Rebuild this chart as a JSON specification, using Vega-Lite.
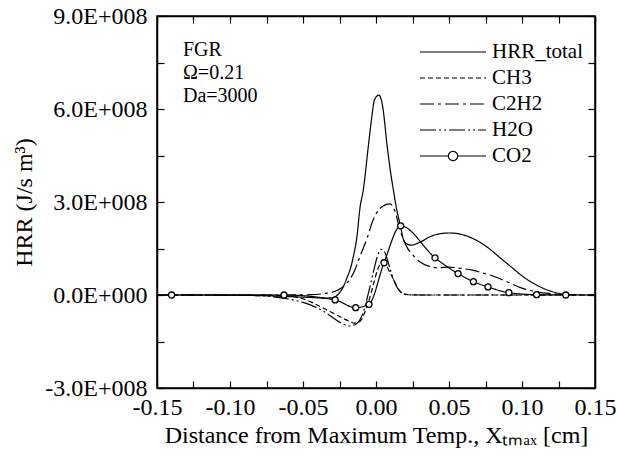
{
  "$schema": "https://vega.github.io/schema/vega-lite/v6.json",
  "width": 438,
  "height": 372,
  "autosize": {"type": "none"},
  "padding": {"left": 157, "top": 16, "right": 23, "bottom": 74},
  "background": "white",
  "config": {
    "font": "'Liberation Serif', serif",
    "view": {"stroke": "black", "strokeWidth": 1.5},
    "text": {"font": "'Liberation Serif', serif"},
    "legend": {"labelFont": "'Liberation Serif', serif", "titleFont": "'Liberation Serif', serif"},
    "axis": {
      "grid": false,
      "domainColor": "black",
      "domainWidth": 1.5,
      "tickColor": "black",
      "tickWidth": 1.2,
      "labelColor": "black",
      "titleColor": "black",
      "labelFont": "'Liberation Serif', serif",
      "titleFont": "'Liberation Serif', serif",
      "labelFontSize": 24,
      "titleFontSize": 24,
      "titleFontWeight": "normal",
      "labelFlush": false,
      "labelOverlap": false
    }
  },
  "datasets": {
    "curves": [
      {"s": "HRR_total", "x": -0.15, "y": 0},
      {"s": "HRR_total", "x": -0.12, "y": 0},
      {"s": "HRR_total", "x": -0.10, "y": -0.005e8},
      {"s": "HRR_total", "x": -0.08, "y": -0.02e8},
      {"s": "HRR_total", "x": -0.06, "y": -0.05e8},
      {"s": "HRR_total", "x": -0.045, "y": -0.08e8},
      {"s": "HRR_total", "x": -0.035, "y": -0.1e8},
      {"s": "HRR_total", "x": -0.029, "y": -0.08e8},
      {"s": "HRR_total", "x": -0.026, "y": 0.02e8},
      {"s": "HRR_total", "x": -0.0224, "y": 0.27e8},
      {"s": "HRR_total", "x": -0.0195, "y": 0.6e8},
      {"s": "HRR_total", "x": -0.0178, "y": 0.81e8},
      {"s": "HRR_total", "x": -0.0155, "y": 1.24e8},
      {"s": "HRR_total", "x": -0.013, "y": 1.9e8},
      {"s": "HRR_total", "x": -0.011, "y": 2.8e8},
      {"s": "HRR_total", "x": -0.0087, "y": 3.39e8},
      {"s": "HRR_total", "x": -0.0053, "y": 4.78e8},
      {"s": "HRR_total", "x": -0.003, "y": 5.7e8},
      {"s": "HRR_total", "x": -0.001, "y": 6.3e8},
      {"s": "HRR_total", "x": 0.002, "y": 6.45e8},
      {"s": "HRR_total", "x": 0.0045, "y": 6.1e8},
      {"s": "HRR_total", "x": 0.0077, "y": 4.78e8},
      {"s": "HRR_total", "x": 0.0105, "y": 3.8e8},
      {"s": "HRR_total", "x": 0.0119, "y": 3.39e8},
      {"s": "HRR_total", "x": 0.014, "y": 2.8e8},
      {"s": "HRR_total", "x": 0.0169, "y": 2.2e8},
      {"s": "HRR_total", "x": 0.0187, "y": 1.8e8},
      {"s": "HRR_total", "x": 0.021, "y": 1.65e8},
      {"s": "HRR_total", "x": 0.0244, "y": 1.61e8},
      {"s": "HRR_total", "x": 0.03, "y": 1.7e8},
      {"s": "HRR_total", "x": 0.039, "y": 1.92e8},
      {"s": "HRR_total", "x": 0.05, "y": 2.0e8},
      {"s": "HRR_total", "x": 0.056, "y": 1.98e8},
      {"s": "HRR_total", "x": 0.065, "y": 1.85e8},
      {"s": "HRR_total", "x": 0.076, "y": 1.55e8},
      {"s": "HRR_total", "x": 0.085, "y": 1.2e8},
      {"s": "HRR_total", "x": 0.094, "y": 0.85e8},
      {"s": "HRR_total", "x": 0.10, "y": 0.62e8},
      {"s": "HRR_total", "x": 0.11, "y": 0.32e8},
      {"s": "HRR_total", "x": 0.12, "y": 0.12e8},
      {"s": "HRR_total", "x": 0.13, "y": 0.02e8},
      {"s": "HRR_total", "x": 0.14, "y": 0},
      {"s": "HRR_total", "x": 0.15, "y": 0},

      {"s": "CH3", "x": -0.15, "y": 0},
      {"s": "CH3", "x": -0.08, "y": 0},
      {"s": "CH3", "x": -0.07, "y": -0.01e8},
      {"s": "CH3", "x": -0.06, "y": -0.04e8},
      {"s": "CH3", "x": -0.05, "y": -0.12e8},
      {"s": "CH3", "x": -0.043, "y": -0.26e8},
      {"s": "CH3", "x": -0.035, "y": -0.45e8},
      {"s": "CH3", "x": -0.028, "y": -0.62e8},
      {"s": "CH3", "x": -0.02, "y": -0.81e8},
      {"s": "CH3", "x": -0.0144, "y": -0.91e8},
      {"s": "CH3", "x": -0.011, "y": -0.85e8},
      {"s": "CH3", "x": -0.008, "y": -0.6e8},
      {"s": "CH3", "x": -0.005, "y": -0.2e8},
      {"s": "CH3", "x": -0.002, "y": 0.3e8},
      {"s": "CH3", "x": 0.001, "y": 0.8e8},
      {"s": "CH3", "x": 0.004, "y": 1.05e8},
      {"s": "CH3", "x": 0.007, "y": 0.95e8},
      {"s": "CH3", "x": 0.0096, "y": 0.72e8},
      {"s": "CH3", "x": 0.012, "y": 0.5e8},
      {"s": "CH3", "x": 0.015, "y": 0.22e8},
      {"s": "CH3", "x": 0.018, "y": 0.06e8},
      {"s": "CH3", "x": 0.022, "y": 0.01e8},
      {"s": "CH3", "x": 0.03, "y": 0},
      {"s": "CH3", "x": 0.15, "y": 0},

      {"s": "C2H2", "x": -0.15, "y": 0},
      {"s": "C2H2", "x": -0.06, "y": 0},
      {"s": "C2H2", "x": -0.045, "y": 0.01e8},
      {"s": "C2H2", "x": -0.035, "y": 0.05e8},
      {"s": "C2H2", "x": -0.028, "y": 0.12e8},
      {"s": "C2H2", "x": -0.024, "y": 0.22e8},
      {"s": "C2H2", "x": -0.02, "y": 0.38e8},
      {"s": "C2H2", "x": -0.015, "y": 0.75e8},
      {"s": "C2H2", "x": -0.011, "y": 1.24e8},
      {"s": "C2H2", "x": -0.006, "y": 1.85e8},
      {"s": "C2H2", "x": -0.002, "y": 2.42e8},
      {"s": "C2H2", "x": 0.003, "y": 2.8e8},
      {"s": "C2H2", "x": 0.0096, "y": 2.94e8},
      {"s": "C2H2", "x": 0.013, "y": 2.7e8},
      {"s": "C2H2", "x": 0.0164, "y": 2.1e8},
      {"s": "C2H2", "x": 0.021, "y": 1.56e8},
      {"s": "C2H2", "x": 0.026, "y": 1.25e8},
      {"s": "C2H2", "x": 0.03, "y": 1.07e8},
      {"s": "C2H2", "x": 0.036, "y": 0.93e8},
      {"s": "C2H2", "x": 0.042, "y": 0.88e8},
      {"s": "C2H2", "x": 0.05, "y": 0.9e8},
      {"s": "C2H2", "x": 0.058, "y": 0.86e8},
      {"s": "C2H2", "x": 0.066, "y": 0.8e8},
      {"s": "C2H2", "x": 0.074, "y": 0.7e8},
      {"s": "C2H2", "x": 0.082, "y": 0.58e8},
      {"s": "C2H2", "x": 0.09, "y": 0.42e8},
      {"s": "C2H2", "x": 0.10, "y": 0.22e8},
      {"s": "C2H2", "x": 0.11, "y": 0.1e8},
      {"s": "C2H2", "x": 0.12, "y": 0.04e8},
      {"s": "C2H2", "x": 0.13, "y": 0.01e8},
      {"s": "C2H2", "x": 0.14, "y": 0},
      {"s": "C2H2", "x": 0.15, "y": 0},

      {"s": "H2O", "x": -0.15, "y": 0},
      {"s": "H2O", "x": -0.09, "y": 0},
      {"s": "H2O", "x": -0.08, "y": -0.02e8},
      {"s": "H2O", "x": -0.07, "y": -0.06e8},
      {"s": "H2O", "x": -0.06, "y": -0.13e8},
      {"s": "H2O", "x": -0.05, "y": -0.24e8},
      {"s": "H2O", "x": -0.043, "y": -0.36e8},
      {"s": "H2O", "x": -0.035, "y": -0.55e8},
      {"s": "H2O", "x": -0.028, "y": -0.78e8},
      {"s": "H2O", "x": -0.0224, "y": -0.94e8},
      {"s": "H2O", "x": -0.018, "y": -1.0e8},
      {"s": "H2O", "x": -0.014, "y": -0.95e8},
      {"s": "H2O", "x": -0.011, "y": -0.8e8},
      {"s": "H2O", "x": -0.008, "y": -0.45e8},
      {"s": "H2O", "x": -0.005, "y": 0.1e8},
      {"s": "H2O", "x": -0.002, "y": 0.7e8},
      {"s": "H2O", "x": 0.001, "y": 1.25e8},
      {"s": "H2O", "x": 0.0035, "y": 1.47e8},
      {"s": "H2O", "x": 0.006, "y": 1.38e8},
      {"s": "H2O", "x": 0.0096, "y": 0.85e8},
      {"s": "H2O", "x": 0.012, "y": 0.5e8},
      {"s": "H2O", "x": 0.015, "y": 0.2e8},
      {"s": "H2O", "x": 0.018, "y": 0.06e8},
      {"s": "H2O", "x": 0.021, "y": 0.01e8},
      {"s": "H2O", "x": 0.03, "y": 0},
      {"s": "H2O", "x": 0.15, "y": 0},

      {"s": "CO2", "x": -0.14, "y": 0},
      {"s": "CO2", "x": -0.063, "y": 0},
      {"s": "CO2", "x": -0.028, "y": -0.16e8},
      {"s": "CO2", "x": -0.0139, "y": -0.41e8},
      {"s": "CO2", "x": -0.0048, "y": -0.3e8},
      {"s": "CO2", "x": 0.0055, "y": 1.04e8},
      {"s": "CO2", "x": 0.0169, "y": 2.23e8},
      {"s": "CO2", "x": 0.0404, "y": 1.2e8},
      {"s": "CO2", "x": 0.0562, "y": 0.69e8},
      {"s": "CO2", "x": 0.0667, "y": 0.43e8},
      {"s": "CO2", "x": 0.0767, "y": 0.26e8},
      {"s": "CO2", "x": 0.091, "y": 0.075e8},
      {"s": "CO2", "x": 0.11, "y": 0.01e8},
      {"s": "CO2", "x": 0.13, "y": 0}
    ],
    "notes": [
      {"label": "FGR", "x": -0.1322, "y": 7.9e8},
      {"label": "Ω=0.21", "x": -0.1322, "y": 7.16e8},
      {"label": "Da=3000", "x": -0.1322, "y": 6.42e8}
    ]
  },
  "layer": [
    {
      "data": {"name": "curves"},
      "mark": {"type": "line", "interpolate": "monotone", "strokeWidth": 1.2, "color": "black"},
      "encoding": {
        "x": {
          "field": "x", "type": "quantitative",
          "scale": {"domain": [-0.15, 0.15], "nice": false, "zero": false},
          "axis": {
            "orient": "bottom",
            "values": [-0.15, -0.125, -0.1, -0.075, -0.05, -0.025, 0, 0.025, 0.05, 0.075, 0.1, 0.125, 0.15],
            "labelExpr": "abs(datum.value*20 - round(datum.value*20)) < 1e-6 ? (datum.value < -1e-9 ? '-' : '') + format(abs(datum.value), '.2f') : ''",
            "tickSize": -7,
            "labelPadding": 14,
            "title": "Distance from Maximum Temp., Xₜₘₐₓ [cm]",
            "titlePadding": 4
          }
        },
        "y": {
          "field": "y", "type": "quantitative",
          "scale": {"domain": [-3e8, 9e8], "nice": false, "zero": false},
          "axis": {
            "orient": "left",
            "values": [-3e8, -1.5e8, 0, 1.5e8, 3e8, 4.5e8, 6e8, 7.5e8, 9e8],
            "labelExpr": "abs(datum.value/3e8 - round(datum.value/3e8)) < 1e-6 ? (abs(datum.value) < 1 ? '0.0E+000' : (datum.value < 0 ? '-' : '') + format(abs(datum.value)/1e8, '.1f') + 'E+008') : ''",
            "tickSize": -7,
            "labelPadding": 17,
            "title": "HRR (J/s m³)",
            "titlePadding": 8
          }
        },
        "strokeDash": {
          "field": "s", "type": "nominal",
          "scale": {
            "domain": ["HRR_total", "CH3", "C2H2", "H2O", "CO2"],
            "range": [[1, 0], [5, 3], [14, 4, 3, 4], [16, 3, 2, 3, 2, 3], [1, 0]]
          },
          "legend": {
            "title": null,
            "orient": "none",
            "legendX": 284,
            "legendY": 24,
            "labelFontSize": 21,
            "labelFont": "'Liberation Serif', serif",
            "labelColor": "black",
            "labelOffset": 27,
            "rowPadding": 4,
            "symbolSize": 484,
            "symbolStrokeWidth": 1.2,
            "symbolStrokeColor": "black",
            "symbolType": "stroke",
            "encode": {
              "symbols": {
                "update": {
                  "shape": {"signal": "datum.value === 'CO2' ? 'M-3,0H-0.42M0.42,0H3M0.42,0A0.42,0.42,0,1,0,-0.42,0A0.42,0.42,0,1,0,0.42,0' : 'M-3,0H3'"}
                }
              }
            }
          }
        }
      }
    },
    {
      "data": {"name": "curves"},
      "transform": [{"filter": "datum.s === 'CO2'"}],
      "mark": {"type": "point", "shape": "circle", "filled": true, "fill": "white", "stroke": "black", "strokeWidth": 1.3, "size": 36, "opacity": 1},
      "encoding": {
        "x": {
          "field": "x", "type": "quantitative",
          "axis": {"orient": "top", "values": [-0.15, -0.125, -0.1, -0.075, -0.05, -0.025, 0, 0.025, 0.05, 0.075, 0.1, 0.125, 0.15], "labels": false, "tickSize": -7, "title": null}
        },
        "y": {
          "field": "y", "type": "quantitative",
          "axis": {"orient": "right", "values": [-3e8, -1.5e8, 0, 1.5e8, 3e8, 4.5e8, 6e8, 7.5e8, 9e8], "labels": false, "tickSize": -7, "title": null}
        }
      }
    },
    {
      "data": {"name": "notes"},
      "mark": {"type": "text", "align": "left", "baseline": "middle", "font": "'Liberation Serif', serif", "fontSize": 20, "color": "black"},
      "encoding": {
        "x": {"field": "x", "type": "quantitative", "axis": null},
        "y": {"field": "y", "type": "quantitative", "axis": null},
        "text": {"field": "label"}
      }
    }
  ],
  "resolve": {"axis": {"x": "independent", "y": "independent"}}
}
